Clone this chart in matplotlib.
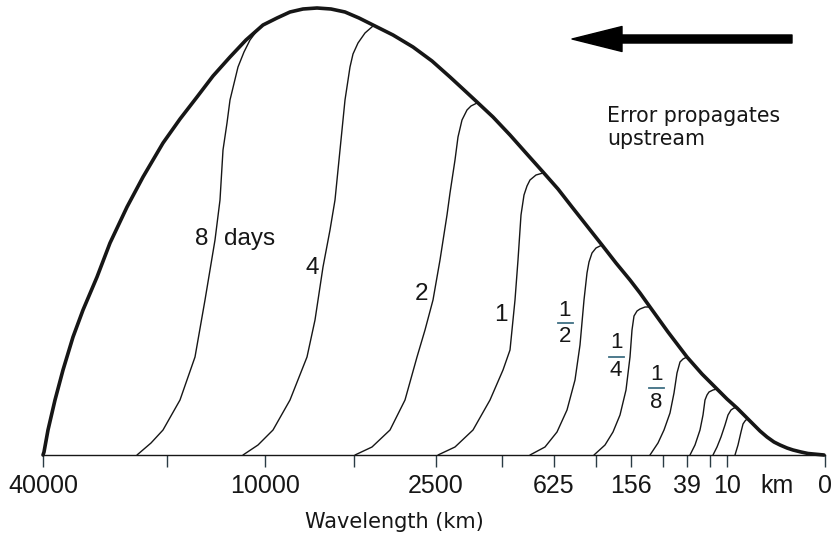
import matplotlib
matplotlib.use("Agg")
import matplotlib.pyplot as plt

# Horizontal unit: position along the wavelength axis (40000 km at 0, 0 km at 782).
# Vertical unit: error amplitude (0 at the axis, 447 at the envelope peak).
major_pos = [0, 222, 393, 511, 588, 644, 684, 734, 782]
major_labels = ["40000", "10000", "2500", "625", "156", "39", "10", "km", "0"]
minor_pos = [124, 311, 459, 553, 620, 667]

envelope_x = [0, 1, 5, 12, 20, 30, 40, 54, 67, 84, 100, 120, 137, 154,
              170, 187, 203, 220, 234, 247, 260, 274, 288, 302, 316, 330, 350,
              370, 389, 407, 420, 434, 450, 467, 483, 500, 515, 529, 544, 559,
              573, 587, 597, 607, 625, 644, 659, 674, 684, 694, 709, 717, 724,
              731, 737, 744, 750, 758, 765, 781]
envelope_y = [0, 3, 25, 55, 85, 118, 145, 178, 212, 248, 278, 312,
              336, 358, 379, 398, 415, 430, 437, 443, 446, 447, 446, 443, 437,
              430, 420, 408, 394, 378, 366, 353, 338, 320, 302, 283, 266, 248,
              229, 210, 192, 175, 162, 148, 123, 98, 81, 66, 56, 47, 32, 24,
              18, 13, 10, 7, 5, 3, 1.5, 0]

days8_x = [94, 108, 120, 137, 152, 162, 172, 177, 180, 184, 187, 195, 201, 207, 213, 220]
days8_y = [0, 12, 25, 55, 98, 155, 215, 255, 305, 332, 355, 388, 403, 415, 423, 430]

days4_x = [200, 215, 230, 247, 264, 272, 280, 287, 292, 297, 302, 307, 310, 315, 322, 330]
days4_y = [0, 10, 25, 55, 98, 135, 188, 225, 255, 305, 355, 388, 401, 412, 422, 429]

days2_x = [312, 329, 347, 362, 374, 382, 390, 397, 404, 407, 412, 415, 419, 424, 428, 434]
days2_y = [0, 8, 25, 55, 98, 125, 155, 195, 240, 262, 295, 318, 335, 345, 349, 352]

days1_x = [395, 412, 430, 447, 460, 467, 472, 475, 478, 481, 484, 487, 493, 500]
days1_y = [0, 8, 25, 55, 85, 105, 155, 195, 240, 260, 269, 275, 280, 282]

half_x = [487, 502, 514, 524, 532, 537, 541, 544, 546, 549, 553, 559]
half_y = [0, 8, 23, 45, 75, 110, 155, 182, 193, 202, 207, 210]

quarter_x = [551, 562, 570, 577, 583, 587, 589, 591, 594, 597, 602, 607]
quarter_y = [0, 10, 23, 40, 65, 98, 125, 139, 144, 146, 148, 148]

eighth_x = [607, 615, 621, 627, 631, 634, 637, 640, 644]
eighth_y = [0, 12, 25, 42, 62, 82, 93, 96, 98]

sixteenth_x = [647, 652, 657, 660, 662, 664, 666, 670, 674]
sixteenth_y = [0, 10, 25, 40, 55, 60, 63, 65, 66]

thirtysecond_x = [670, 674, 678, 682, 685, 688, 691, 694]
thirtysecond_y = [0, 8, 18, 30, 40, 45, 47, 47]

sixtyfourth_x = [692, 695, 698, 700, 702, 704]
sixtyfourth_y = [0, 10, 23, 31, 34, 36]

inner_curves = [
    (days8_x, days8_y),
    (days4_x, days4_y),
    (days2_x, days2_y),
    (days1_x, days1_y),
    (half_x, half_y),
    (quarter_x, quarter_y),
    (eighth_x, eighth_y),
    (sixteenth_x, sixteenth_y),
    (thirtysecond_x, thirtysecond_y),
    (sixtyfourth_x, sixtyfourth_y),
]

INK = "#161616"
LABEL_FONT = ["Liberation Sans", "DejaVu Sans"]

fig = plt.figure(figsize=(8.32, 5.35), dpi=100)
ax = fig.add_axes([43 / 832, 80 / 535, 782 / 832, 447 / 535])
ax.set_xlim(0, 782)
ax.set_ylim(0, 447)

for xs, ys in inner_curves:
    ax.plot(xs, ys, color=INK, lw=1.0, clip_on=False,
            solid_joinstyle="round", solid_capstyle="round")
ax.plot(envelope_x, envelope_y, color=INK, lw=2.6, clip_on=False,
        solid_joinstyle="round", solid_capstyle="round")

for side in ("top", "left", "right"):
    ax.spines[side].set_visible(False)
ax.spines["bottom"].set_linewidth(1.0)
ax.spines["bottom"].set_color(INK)
ax.set_yticks([])

ax.set_xticks(major_pos)
ax.set_xticklabels(major_labels, fontsize=18, family=LABEL_FONT, color=INK)
ax.set_xticks(minor_pos, minor=True)
ax.tick_params(axis="x", which="both", direction="out", length=8.5,
               width=1.0, color="#2a3c44", pad=5)
# "km" is a unit label, not a tick
ax.xaxis.get_major_ticks()[major_labels.index("km")].tick1line.set_visible(False)

# curve labels (forecast lead time)
txt = dict(fontsize=17.5, family=LABEL_FONT, color=INK, ha="center", va="center")
ax.text(159, 216, "8", **txt)
ax.text(207, 216, "days", **txt)
ax.text(269, 187, "4", **txt)
ax.text(378, 161, "2", **txt)
ax.text(458, 140, "1", **txt)

frac = dict(fontsize=16, family=LABEL_FONT, color=INK, ha="center", va="center")
BAR = "#3f6f84"
for x, y_num, y_bar, y_den, den in [(522, 145, 132, 119, "2"),
                                     (573, 112, 98, 84, "4"),
                                     (613, 80, 67, 52, "8")]:
    ax.text(x, y_num, "1", **frac)
    ax.text(x, y_den, den, **frac)
    ax.plot([x - 7.5, x + 7.5], [y_bar, y_bar], color=BAR, lw=1.3)

ax.text(351, -73, "Wavelength (km)", fontsize=15, family="DejaVu Sans",
        color=INK, ha="center", va="baseline")

# direction arrow and note
ax.annotate("", xy=(572, 496), xytext=(792, 496),
            xycoords="figure pixels", textcoords="figure pixels",
            arrowprops=dict(arrowstyle="simple,head_length=36,head_width=18,tail_width=5.8",
                            mutation_scale=1, color="black", shrinkA=0, shrinkB=0))
fig.text(607 / 832, (535 - 122) / 535, "Error propagates", fontsize=14.8,
         family="DejaVu Sans", color=INK, ha="left", va="baseline")
fig.text(607 / 832, (535 - 145) / 535, "upstream", fontsize=14.8,
         family="DejaVu Sans", color=INK, ha="left", va="baseline")

fig.savefig("out.png", dpi=100)
